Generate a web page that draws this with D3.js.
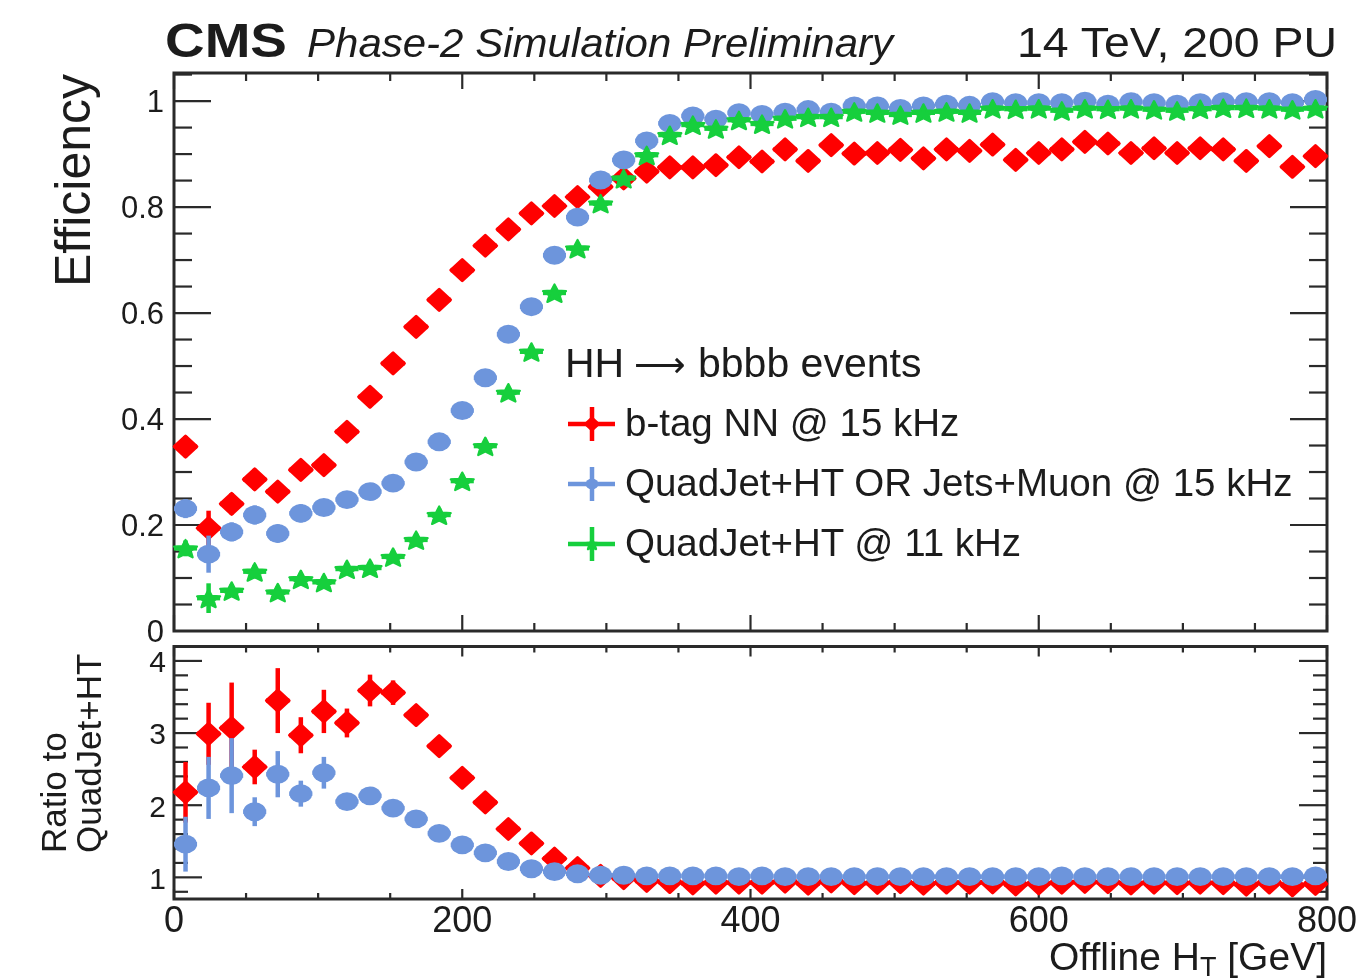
<!DOCTYPE html>
<html>
<head>
<meta charset="utf-8">
<script src="https://cdn.jsdelivr.net/npm/d3@7"></script>
<style>
  body { margin: 0; background: #fff; }
  text { font-family: "Liberation Sans", Arial, Helvetica, sans-serif; fill: #1a1a1a; }
</style>
</head>
<body>
<svg id="canvas"></svg>
<script>
// HT bin centres [GeV], 16 GeV bins
const binCenters = [8, 24, 40, 56, 72, 88, 104, 120, 136, 152, 168, 184, 200, 216, 232, 248, 264, 280, 296, 312,
  328, 344, 360, 376, 392, 408, 424, 440, 456, 472, 488, 504, 520, 536, 552, 568, 584, 600, 616, 632,
  648, 664, 680, 696, 712, 728, 744, 760, 776, 792];

// efficiencies
const effBtag = [0.348, 0.194, 0.240, 0.286, 0.263, 0.304, 0.313, 0.376, 0.442, 0.505, 0.574, 0.625, 0.681, 0.727, 0.758, 0.788, 0.802, 0.819, 0.838, 0.854,
  0.867, 0.875, 0.875, 0.879, 0.894, 0.886, 0.909, 0.887, 0.917, 0.901, 0.902, 0.908, 0.892, 0.909, 0.906, 0.918, 0.889, 0.902, 0.909, 0.923,
  0.920, 0.902, 0.911, 0.902, 0.911, 0.909, 0.887, 0.915, 0.876, 0.896];
const effOr = [0.231, 0.145, 0.187, 0.219, 0.184, 0.222, 0.233, 0.248, 0.263, 0.279, 0.319, 0.357, 0.416, 0.478, 0.560, 0.612, 0.709, 0.781, 0.851, 0.889,
  0.925, 0.958, 0.972, 0.966, 0.978, 0.975, 0.979, 0.984, 0.979, 0.991, 0.991, 0.986, 0.991, 0.994, 0.992, 0.999, 0.997, 0.997, 0.997, 1.000,
  0.994, 0.999, 0.997, 0.994, 0.997, 0.999, 0.999, 0.999, 0.997, 1.003];
const effQuad = [0.156, 0.062, 0.076, 0.112, 0.073, 0.098, 0.092, 0.117, 0.119, 0.140, 0.172, 0.219, 0.283, 0.349, 0.450, 0.527, 0.638, 0.722, 0.807, 0.854,
  0.898, 0.936, 0.955, 0.948, 0.964, 0.957, 0.967, 0.970, 0.970, 0.980, 0.978, 0.974, 0.978, 0.980, 0.978, 0.986, 0.985, 0.986, 0.982, 0.986,
  0.985, 0.986, 0.984, 0.982, 0.985, 0.987, 0.987, 0.986, 0.984, 0.986];
const errBtag = [0.020, 0.033, 0.020, 0.020, 0.018, 0.018, 0.017, 0.017, 0.016, 0.015, 0.014, 0.013, 0.012, 0.011, 0.010, 0.010, 0.010, 0.010, 0.010, 0.010,
  0.010, 0.010, 0.010, 0.010, 0.010, 0.010, 0.010, 0.010, 0.010, 0.010, 0.010, 0.010, 0.010, 0.010, 0.010, 0.010, 0.010, 0.010, 0.010, 0.010,
  0.010, 0.010, 0.010, 0.010, 0.010, 0.010, 0.010, 0.010, 0.010, 0.010];
const errOr = [0.018, 0.035, 0.018, 0.018, 0.017, 0.017, 0.016, 0.016, 0.015, 0.015, 0.014, 0.013, 0.012, 0.011, 0.010, 0.010, 0.008, 0.008, 0.006, 0.006,
  0.005, 0.005, 0.004, 0.004, 0.004, 0.004, 0.004, 0.004, 0.004, 0.004, 0.004, 0.004, 0.004, 0.004, 0.004, 0.004, 0.004, 0.004, 0.004, 0.004,
  0.004, 0.004, 0.004, 0.004, 0.004, 0.004, 0.004, 0.004, 0.004, 0.004];
const errQuad = [0.015, 0.028, 0.012, 0.013, 0.012, 0.012, 0.012, 0.012, 0.012, 0.012, 0.012, 0.012, 0.012, 0.011, 0.010, 0.010, 0.009, 0.008, 0.007, 0.006,
  0.005, 0.005, 0.004, 0.004, 0.004, 0.004, 0.004, 0.004, 0.004, 0.004, 0.004, 0.004, 0.004, 0.004, 0.004, 0.004, 0.004, 0.004, 0.004, 0.004,
  0.004, 0.004, 0.004, 0.004, 0.004, 0.004, 0.004, 0.004, 0.004, 0.004];

// ratios to QuadJet+HT
const ratioBtag = [2.18, 2.99, 3.07, 2.53, 3.45, 2.97, 3.30, 3.14, 3.59, 3.56, 3.25, 2.82, 2.38, 2.04, 1.67, 1.47, 1.26, 1.13, 1.02, 0.99,
  0.95, 0.935, 0.916, 0.927, 0.927, 0.926, 0.940, 0.914, 0.945, 0.919, 0.922, 0.932, 0.912, 0.928, 0.926, 0.931, 0.903, 0.915, 0.926, 0.936,
  0.934, 0.915, 0.926, 0.919, 0.925, 0.921, 0.899, 0.928, 0.890, 0.909];
const ratioOr = [1.46, 2.24, 2.41, 1.91, 2.43, 2.16, 2.45, 2.05, 2.13, 1.96, 1.81, 1.61, 1.45, 1.34, 1.22, 1.12, 1.08, 1.05, 1.03, 1.03,
  1.02, 1.02, 1.02, 1.02, 1.01, 1.02, 1.01, 1.01, 1.01, 1.01, 1.01, 1.01, 1.01, 1.01, 1.01, 1.01, 1.01, 1.01, 1.02, 1.01,
  1.01, 1.01, 1.01, 1.01, 1.01, 1.01, 1.01, 1.01, 1.01, 1.02];
const ratioErrBtag = [0.42, 0.43, 0.63, 0.24, 0.45, 0.25, 0.30, 0.20, 0.22, 0.17, 0.11, 0.08, 0.06, 0.05, 0.04, 0.03, 0.02, 0.02, 0.01, 0.01,
  0.01, 0.01, 0.01, 0.01, 0.01, 0.01, 0.01, 0.01, 0.01, 0.01, 0.01, 0.01, 0.01, 0.01, 0.01, 0.01, 0.01, 0.01, 0.01, 0.01,
  0.01, 0.01, 0.01, 0.01, 0.01, 0.01, 0.01, 0.01, 0.01, 0.01];
const ratioErrOr = [0.38, 0.43, 0.52, 0.20, 0.32, 0.18, 0.22, 0.10, 0.08, 0.07, 0.05, 0.04, 0.03, 0.02, 0.02, 0.01, 0.01, 0.01, 0.01, 0.01,
  0.01, 0.01, 0.01, 0.01, 0.01, 0.01, 0.01, 0.01, 0.01, 0.01, 0.01, 0.01, 0.01, 0.01, 0.01, 0.01, 0.01, 0.01, 0.01, 0.01,
  0.01, 0.01, 0.01, 0.01, 0.01, 0.01, 0.01, 0.01, 0.01, 0.01];

const xTicks = [0, 200, 400, 600, 800];
const effTicks = [0, 0.2, 0.4, 0.6, 0.8, 1];
const ratioTicks = [1, 2, 3, 4];
const legendLabels = ["b-tag NN @ 15 kHz", "QuadJet+HT OR Jets+Muon @ 15 kHz", "QuadJet+HT @ 11 kHz"];

const width = 1357;
const height = 980;
const binHalf = 8;
const frameColor = "#2a2a2a";
const red = "#ff0000";
const blue = "#6d95dc";
const green = "#14cf3c";

const svg = d3.select("#canvas").attr("width", width).attr("height", height);
svg.append("defs").append("filter").attr("id", "soft")
  .attr("x", "-5%").attr("y", "-5%").attr("width", "110%").attr("height", "110%")
  .append("feGaussianBlur").attr("stdDeviation", 0.7);
const root = svg.append("g").attr("filter", "url(#soft)");

const x = d3.scaleLinear().domain([0, 800]).range([174, 1327]);
const yEff = d3.scaleLinear().domain([0, 1.053]).range([631, 73]);
const yRatio = d3.scaleLinear().domain([0.7, 4.2]).range([899, 646.5]);

// marker shapes
const diamondPath = (s) => `M0,${-s}L${s * 1.08},0L0,${s}L${-s * 1.08},0Z`;
const starPath = (r) => {
  let pts = [];
  for (let i = 0; i < 10; i++) {
    const a = -Math.PI / 2 + (i * Math.PI) / 5;
    const rr = i % 2 === 0 ? r : r * 0.45;
    pts.push([rr * Math.cos(a), rr * Math.sin(a) * 0.8 + r * 0.1]);
  }
  return "M" + pts.map((p) => p[0].toFixed(2) + "," + p[1].toFixed(2)).join("L") + "Z";
};

const drawMarker = (g, kind, color, size) => {
  if (kind === "diamond") {
    g.append("path").attr("d", diamondPath(size))
      .attr("fill", color).attr("stroke", color).attr("stroke-width", 3).attr("stroke-linejoin", "round");
  } else if (kind === "circle") {
    g.append("ellipse").attr("rx", size * 1.08).attr("ry", size * 0.9).attr("fill", color);
  } else {
    g.append("path").attr("d", starPath(size * 1.15))
      .attr("fill", color).attr("stroke", color).attr("stroke-width", 2.2).attr("stroke-linejoin", "round");
  }
};

const drawSeries = (panel, yScale, values, errors, color, kind) => {
  const pts = binCenters.map((c, i) => ({ c: c, v: values[i], e: errors[i] }));
  const grp = panel.append("g");
  grp.selectAll(".ey").data(pts).enter().append("line")
    .attr("x1", (d) => x(d.c)).attr("x2", (d) => x(d.c))
    .attr("y1", (d) => yScale(d.v - d.e)).attr("y2", (d) => yScale(d.v + d.e))
    .attr("stroke", color).attr("stroke-width", 4.5);
  grp.selectAll(".ex").data(pts).enter().append("line")
    .attr("x1", (d) => x(d.c - binHalf)).attr("x2", (d) => x(d.c + binHalf))
    .attr("y1", (d) => yScale(d.v)).attr("y2", (d) => yScale(d.v))
    .attr("stroke", color).attr("stroke-width", 4.5);
  grp.selectAll(".mk").data(pts).enter().append("g")
    .attr("transform", (d) => `translate(${x(d.c)},${yScale(d.v)})`)
    .each(function () { drawMarker(d3.select(this), kind, color, 10.5); });
};

const drawFrame = (yScale, yMajor, yMinorStep, majLenY, minLenY, majLenX, minLenX) => {
  const [yb, yt] = yScale.range();
  const [x0, x1] = x.range();
  const g = root.append("g").attr("stroke", frameColor);
  // x ticks top and bottom
  d3.range(0, 801, 50).forEach((v) => {
    const len = v % 200 === 0 ? majLenX : minLenX;
    g.append("line").attr("x1", x(v)).attr("x2", x(v)).attr("y1", yt).attr("y2", yt + len).attr("stroke-width", 2.2);
    g.append("line").attr("x1", x(v)).attr("x2", x(v)).attr("y1", yb).attr("y2", yb - len).attr("stroke-width", 2.2);
  });
  // y ticks left and right
  const [d0, d1] = yScale.domain();
  const minors = d3.range(Math.ceil(d0 / yMinorStep - 1e-9) * yMinorStep, d1 + 1e-9, yMinorStep);
  minors.forEach((v) => {
    const isMajor = yMajor.some((m) => Math.abs(m - v) < 1e-6);
    const len = isMajor ? majLenY : minLenY;
    g.append("line").attr("x1", x0).attr("x2", x0 + len).attr("y1", yScale(v)).attr("y2", yScale(v)).attr("stroke-width", 2.2);
    g.append("line").attr("x1", x1).attr("x2", x1 - len).attr("y1", yScale(v)).attr("y2", yScale(v)).attr("stroke-width", 2.2);
  });
  g.append("rect").attr("x", x0).attr("y", yt).attr("width", x1 - x0).attr("height", yb - yt)
    .attr("fill", "none").attr("stroke-width", 3);
};

// frames + ticks
drawFrame(yEff, effTicks, 0.05, 37, 18, 16, 8);
drawFrame(yRatio, ratioTicks, 0.2, 28, 14, 10, 6);

// y tick labels
root.append("g").selectAll("text").data(effTicks).enter().append("text")
  .attr("x", 164).attr("y", (d) => yEff(d)).attr("dy", "0.36em")
  .attr("text-anchor", "end").style("font-size", "31px")
  .text((d) => (d === 0 || d === 1 ? d : d.toFixed(1)));
root.append("g").selectAll("text").data(ratioTicks).enter().append("text")
  .attr("x", 166).attr("y", (d) => yRatio(d)).attr("dy", "0.38em")
  .attr("text-anchor", "end").style("font-size", "30px")
  .text((d) => d);

// x tick labels
root.append("g").selectAll("text").data(xTicks).enter().append("text")
  .attr("x", (d) => x(d)).attr("y", 932)
  .attr("text-anchor", "middle").style("font-size", "36px")
  .text((d) => d);

// data: top panel
const effPanel = root.append("g");
drawSeries(effPanel, yEff, effBtag, errBtag, red, "diamond");
drawSeries(effPanel, yEff, effOr, errOr, blue, "circle");
drawSeries(effPanel, yEff, effQuad, errQuad, green, "star");

// data: ratio panel
const ratioPanel = root.append("g");
drawSeries(ratioPanel, yRatio, ratioBtag, ratioErrBtag, red, "diamond");
drawSeries(ratioPanel, yRatio, ratioOr, ratioErrOr, blue, "circle");

// axis titles
root.append("text").attr("transform", "translate(90,74) rotate(-90)")
  .attr("text-anchor", "end").style("font-size", "50px").text("Efficiency");
root.append("text").attr("transform", "translate(66,853) rotate(-90)")
  .attr("text-anchor", "start").style("font-size", "35px").text("Ratio to");
root.append("text").attr("transform", "translate(101,853) rotate(-90)")
  .attr("text-anchor", "start").style("font-size", "35px").text("QuadJet+HT");

const xTitle = root.append("text").attr("x", 1327).attr("y", 970)
  .attr("text-anchor", "end").style("font-size", "39px");
xTitle.append("tspan").text("Offline H");
xTitle.append("tspan").attr("dy", 6).style("font-size", "27px").text("T");
xTitle.append("tspan").attr("dy", -6).text(" [GeV]");

// header
root.append("text").attr("x", 165).attr("y", 57).attr("textLength", 122).attr("lengthAdjust", "spacingAndGlyphs")
  .style("font-size", "48px").style("font-weight", "bold").text("CMS");
root.append("text").attr("x", 307).attr("y", 57).attr("textLength", 586).attr("lengthAdjust", "spacingAndGlyphs")
  .style("font-size", "40px").style("font-style", "italic").text("Phase-2 Simulation Preliminary");
root.append("text").attr("x", 1017).attr("y", 57).attr("textLength", 320).attr("lengthAdjust", "spacingAndGlyphs")
  .style("font-size", "42px").text("14 TeV, 200 PU");

// legend
const legTitle = root.append("text").attr("y", 377).style("font-size", "41px");
legTitle.append("tspan").attr("x", 565).text("HH");
legTitle.append("tspan").attr("x", 634).style("font-family", "'DejaVu Sans'").style("font-size", "36px").text("\u27F6");
legTitle.append("tspan").attr("x", 698).text("bbbb events");

const legendRows = [
  { label: legendLabels[0], color: red, kind: "diamond", y: 424 },
  { label: legendLabels[1], color: blue, kind: "circle", y: 484 },
  { label: legendLabels[2], color: green, kind: "star", y: 544 },
];
const legendItem = root.append("g").selectAll("g").data(legendRows).enter().append("g")
  .attr("transform", (d) => `translate(592,${d.y})`);
legendItem.append("line").attr("x1", -24).attr("x2", 23).attr("y1", 0).attr("y2", 0)
  .attr("stroke", (d) => d.color).attr("stroke-width", 4.5);
legendItem.append("line").attr("x1", 0).attr("x2", 0).attr("y1", -17).attr("y2", 17)
  .attr("stroke", (d) => d.color).attr("stroke-width", 4.5);
legendItem.each(function (d) { drawMarker(d3.select(this), d.kind, d.color, 6); });
legendItem.append("text").attr("x", 33).attr("y", 12).style("font-size", "38.5px").text((d) => d.label);
</script>
</body>
</html>
